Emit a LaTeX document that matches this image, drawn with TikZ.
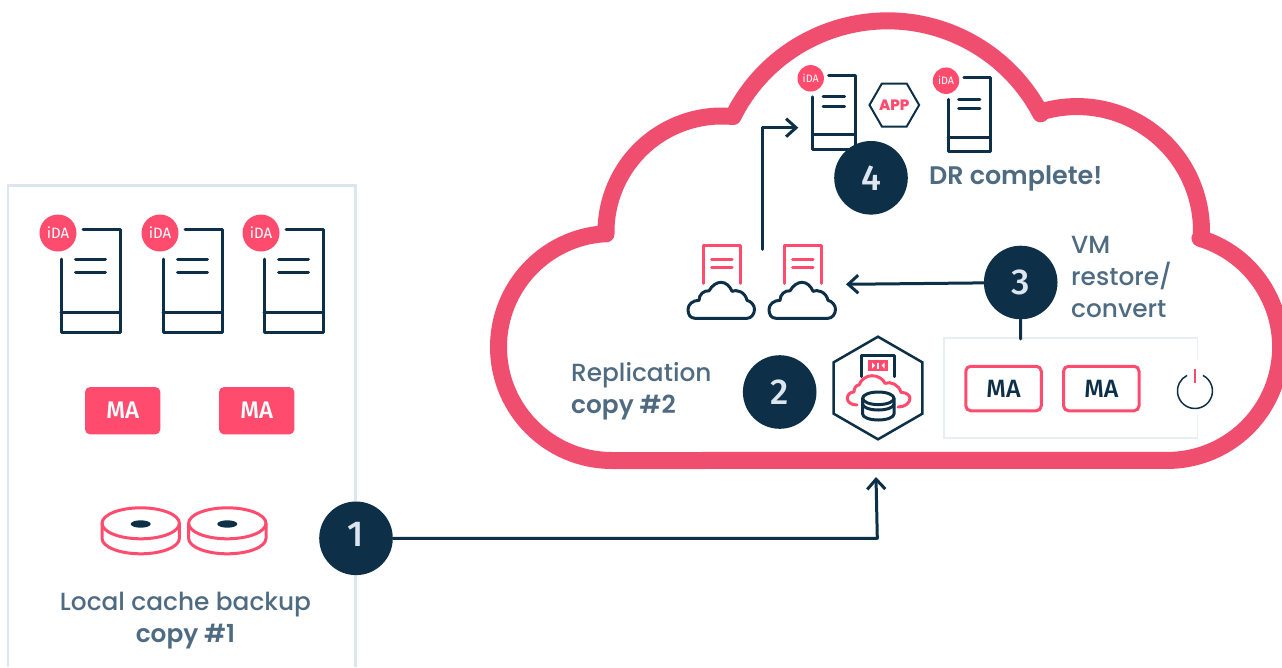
\documentclass[tikz,border=0pt]{standalone}
\usepackage{fontspec}
\setmainfont{Poppins Medium}
\newfontfamily\medfont{Poppins SemiBold}
\newfontfamily\dinfont{Fira Sans}
\newfontfamily\dinmedfont{Fira Sans Medium}
\usetikzlibrary{arrows.meta,shapes.geometric}
\definecolor{navy}{HTML}{0D2F47}
\definecolor{rose}{HTML}{FF4B6E}
\definecolor{cloudrose}{HTML}{F04E6E}
\definecolor{slate}{HTML}{4F6B82}
\definecolor{mist}{HTML}{DDE6EE}
\definecolor{palebox}{HTML}{E9EEF4}
\tikzset{>={Straight Barb[length=10pt,width=18pt]}}
\tikzset{
  navyline/.style={draw=navy,line width=3pt,line cap=round,line join=round},
  roseline/.style={draw=rose,line width=3pt,line cap=round,line join=round},
  stepdot/.style={circle,fill=navy,text=mist,inner sep=0pt,minimum size=73.6pt,font=\dinmedfont\fontsize{36}{36}\selectfont},
  idabadge/.style={circle,fill=rose,text=white,inner sep=0pt,minimum size=37pt,font=\dinfont\fontsize{15}{15}\selectfont},
  filledma/.style={rectangle,rounded corners=5pt,fill=rose,text=white,inner sep=0pt,minimum width=75.3pt,minimum height=47.3pt,font=\dinmedfont\fontsize{24}{24}\selectfont},
  outlinema/.style={rectangle,rounded corners=5pt,draw=rose,line width=3pt,text=navy,inner sep=0pt,minimum width=75.5pt,minimum height=44.5pt,outer sep=0pt,font=\dinmedfont\fontsize{25}{25}\selectfont},
  caption/.style={text=slate,inner sep=0pt,font=\fontsize{24.8}{32}\selectfont},
  servericon/.pic={
    \draw[navyline] (25,-4)--(62,-4)--(62,99)--(3,99)--(3,26);
    \draw[navyline] (3,79)--(62,79);
    \draw[navyline] (17.5,26)--(47.5,26);
    \draw[navyline] (17.5,39)--(47.5,39);
    \node[idabadge,transform shape] (-badge) at (0,0) {iDA};
  },
  diskicon/.pic={
    \draw[roseline] (0,0) ellipse [x radius=38.7,y radius=15.5];
    \draw[roseline] (-38.7,0)--(-38.7,15) arc[start angle=180,end angle=0,x radius=38.7,y radius=15.5]--(38.7,0);
    \fill[navy] (0,0.7) ellipse [x radius=10,y radius=3.7];
  },
  sheeticon/.pic={
    \draw[roseline] (-18,-35)--(-18,-73.3)--(19,-73.3)--(19,-35);
    \draw[roseline] (-9.5,-59.3)--(11,-59.3);
    \draw[roseline] (-9.5,-51.3)--(11,-51.3);
    \draw[navyline] (-26,0) .. controls (-31,0) and (-33,-4) .. (-33,-9)
        .. controls (-33,-14) and (-28,-18) .. (-22,-18)
        .. controls (-22,-24) and (-17,-28) .. (-12,-27.5)
        .. controls (-9,-33) and (-4,-36) .. (0,-36)
        .. controls (5,-36) and (9,-32) .. (11,-27)
        .. controls (15,-29) and (24,-27) .. (26,-18)
        .. controls (30,-17) and (33.5,-13) .. (33.5,-9)
        .. controls (33.5,-4) and (30,0) .. (26,0) -- cycle;
  }
}
\begin{document}
\begin{tikzpicture}[x=1pt,y=-1pt]
    \useasboundingbox (0,0) rectangle (1282,667);
    \draw[mist,line width=2.5pt] (8,667)--(8,185.5)--(355.5,185.5)--(355.5,667);
    \draw[cloudrose,line width=17pt,line join=round]
        (612,460.5) arc[start angle=90,end angle=266,radius=113.5]
        -- (606,234) arc[start angle=179,end angle=275.5,radius=116]
        -- (733,116.5) arc[start angle=206.5,end angle=332.5,radius=172.7]
        -- (1040.6,112) arc[start angle=253,end angle=362.3,radius=124.5]
        -- (1199.9,238.3) arc[start angle=-73.2,end angle=90,radius=113.5]
        -- cycle;
    \pic (srvA) at (58,233) {servericon};
    \pic (srvB) at (160,233) {servericon};
    \pic (srvC) at (261,233) {servericon};
    \node[filledma] (maA) at (122.7,410.7) {MA};
    \node[filledma] (maB) at (256.7,410.7) {MA};
    \pic (diskA) at (140.7,523.3) {diskicon};
    \pic (diskB) at (227.3,523.3) {diskicon};
    \node[caption,align=center] (localtxt) at (185.5,620.5) {Local cache backup\\{\medfont copy \#1}};
    \pic[scale=.715] (srvD) at (810.7,78.3) {servericon};
    \pic[scale=.715] (srvE) at (946,80.7) {servericon};
    \node[regular polygon,regular polygon sides=6,draw=navy,line width=2pt,inner sep=0pt,minimum size=48.6pt,
        text=rose,font=\bfseries\fontsize{15}{15}\selectfont] (app) at (894.3,105) {APP};
    \pic (vmA) at (721,318.3) {sheeticon};
    \pic (vmB) at (802,318.3) {sheeticon};
    \node[caption,align=left,anchor=west] (repltxt) at (571,391) {Replication\\{\medfont copy \#2}};
    \node[regular polygon,regular polygon sides=6,shape border rotate=30,draw=navy,line width=2.5pt,inner sep=0pt,
        minimum size=102.6pt] (hub) at (878,388) {};
    \draw[navyline] (861.7,376.7)--(861.7,355)--(894.3,355)--(894.3,376.7);
    \fill[rose] (868.3,360) rectangle (888.3,371);
    \fill[white] (872,362.5)--(875,365.5)--(872,368.5)--cycle;
    \fill[white] (877.2,362.5) rectangle (879.4,368.5);
    \fill[white] (884.6,362.5)--(881.6,365.5)--(884.6,368.5)--cycle;
    \draw[roseline] (857,405) .. controls (851,405) and (847.3,402) .. (847.3,398.3)
        .. controls (847.3,394) and (851,392) .. (854,392)
        .. controls (854,388) and (856,385) .. (859,385)
        .. controls (861,379) and (867,375.7) .. (872,375.7)
        .. controls (878,375.7) and (883,379) .. (885,383.3)
        .. controls (891,381) and (899,385) .. (901,392.3)
        .. controls (906,392.5) and (910,395) .. (910,398.3)
        .. controls (910,403) and (905,407) .. (898,407);
    \draw[navyline] (878.3,398.3) ellipse [x radius=15.7,y radius=6.3];
    \draw[navyline] (862.6,398.3)--(862.6,414) arc[start angle=180,end angle=0,x radius=15.7,y radius=6]--(894,398.3);
    \draw[navyline] (862.6,404) arc[start angle=180,end angle=0,x radius=15.7,y radius=6];
    \draw[palebox,line width=1.2pt] (1197.3,360)--(1197.3,338)--(944,338)--(944,438)--(1197.3,438)--(1197.3,415);
    \node[outlinema] (maC) at (1003.5,388.5) {MA};
    \node[outlinema] (maD) at (1101.3,388.5) {MA};
    \draw[navy,line width=1.5pt] (1202.9,375.4) arc[start angle=297,end angle=603,radius=17.5];
    \draw[rose,line width=1.5pt] (1195,369.3)--(1195,383.3);
    \node[stepdot,text depth=8pt] (stepA) at (356,538.3) {1};
    \node[stepdot] (stepB) at (779.7,392) {2};
    \node[stepdot] (stepC) at (1020.7,282.5) {3};
    \node[stepdot] (stepD) at (871,177.8) {4};
    \node[caption,anchor=west] (drtxt) at (929,178) {\fontsize{25.4}{32}\selectfont\medfont DR complete!};
    \node[caption,align=left,anchor=west] (vmtxt) at (1071,277) {VM\\restore/\\convert};
    \coordinate (bendA) at (877.3,538.3);
    \coordinate (tipA) at (876,477);
    \coordinate (tipC) at (846,284.3);
    \coordinate (footC) at (1020.5,339);
    \coordinate (startD) at (762,249.3);
    \coordinate (bendD) at (762,127.7);
    \coordinate (tipD) at (798.3,127.7);
    \draw[navyline,->] (stepA)--(bendA)--(tipA);
    \draw[navyline,->] (stepC)--(tipC);
    \draw[navyline] (stepC)--(footC);
    \draw[navyline,->] (startD)--(bendD)--(tipD);
\end{tikzpicture}
\end{document}
